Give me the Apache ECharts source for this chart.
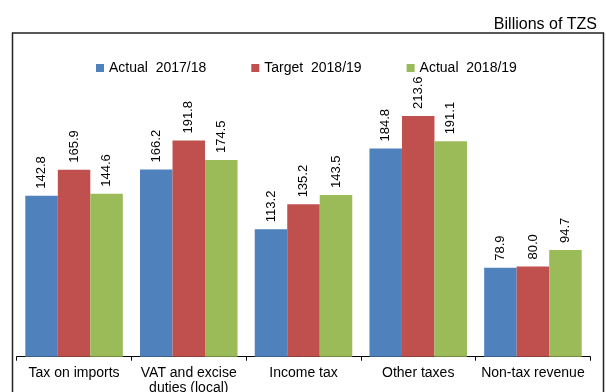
<!DOCTYPE html>
<html>
<head>
<meta charset="utf-8">
<script src="https://cdn.jsdelivr.net/npm/echarts@6/dist/echarts.min.js"></script>
<style>
  html, body { margin: 0; padding: 0; background: #fff; }
  #chart { width: 606px; height: 392px; }
</style>
</head>
<body>
<div id="chart"></div>
<script>
// Revenue collections by source, billions of TZS
const categories = ['Tax on imports', 'VAT and excise\nduties (local)', 'Income tax', 'Other taxes', 'Non-tax revenue'];
const seriesNames = ['Actual  2017/18', 'Target  2018/19', 'Actual  2018/19'];
const actual1718 = [142.8, 166.2, 113.2, 184.8, 78.9];
const target1819 = [165.9, 191.8, 135.2, 213.6, 80.0];
const actual1819 = [144.6, 174.5, 143.5, 191.1, 94.7];
const colors = ['#4F81BD', '#C0504D', '#9BBB59'];

const FONT = '"Liberation Sans", Arial, sans-serif';
const chart = echarts.init(document.getElementById('chart'), null, { renderer: 'canvas' });

function barSeries(name, data, color) {
  return {
    name: name,
    type: 'bar',
    data: data,
    barGap: '0%',
    barCategoryGap: '15%',
    itemStyle: { color: color },
    label: {
      show: true,
      position: 'top',
      distance: 7,
      rotate: 90,
      align: 'left',
      verticalAlign: 'middle',
      color: '#000',
      fontFamily: FONT,
      fontSize: 13,
      formatter: p => p.value.toFixed(1)
    },
    emphasis: { disabled: true }
  };
}

chart.setOption({
  animation: false,
  backgroundColor: '#fff',
  title: {
    text: 'Billions of TZS',
    right: 4,
    top: 12,
    textStyle: { fontFamily: FONT, fontSize: 16, fontWeight: 'normal', color: '#000' }
  },
  legend: {
    left: 91,
    top: 56,
    itemWidth: 8,
    itemHeight: 8,
    itemGap: 45,
    icon: 'rect',
    textStyle: { fontFamily: FONT, fontSize: 14, color: '#000' },
    data: seriesNames
  },
  grid: {
    left: 16.7, right: 15.7, top: 75, bottom: 35.3,
    containLabel: false,
    outerBoundsMode: 'none'
  },
  xAxis: {
    type: 'category',
    data: categories,
    axisLine: { lineStyle: { color: '#000', width: 1 } },
    axisTick: { show: true, length: 4, alignWithLabel: false, lineStyle: { color: '#000' } },
    axisLabel: {
      interval: 0,
      margin: 9,
      color: '#000',
      fontFamily: FONT,
      fontSize: 14,
      lineHeight: 15
    }
  },
  yAxis: {
    type: 'value',
    min: 0,
    max: 250,
    show: false,
    splitLine: { show: false }
  },
  series: [
    barSeries(seriesNames[0], actual1718, colors[0]),
    barSeries(seriesNames[1], target1819, colors[1]),
    barSeries(seriesNames[2], actual1819, colors[2])
  ],
  graphic: [{
    type: 'rect',
    shape: { x: 12.5, y: 33, width: 591, height: 380 },
    style: { fill: 'none', stroke: '#222', lineWidth: 1.5 },
    silent: true
  }]
});
</script>
</body>
</html>
